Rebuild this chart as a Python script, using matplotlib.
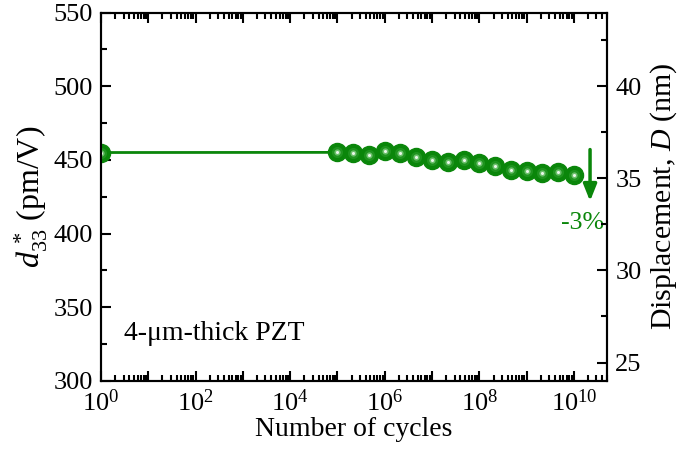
import numpy as np
import matplotlib
matplotlib.use('Agg')
import matplotlib.pyplot as plt
from matplotlib.ticker import MultipleLocator, LogLocator, FuncFormatter, NullFormatter

plt.rcParams['font.family'] = 'Liberation Serif'
plt.rcParams['mathtext.fontset'] = 'custom'
plt.rcParams['mathtext.rm'] = 'Liberation Serif'
plt.rcParams['mathtext.it'] = 'Liberation Serif:italic'

# fatigue data
cycles = [1, 1e5, 2.15e5, 4.64e5, 1e6, 2.15e6, 4.64e6, 1e7, 2.15e7, 4.64e7,
          1e8, 2.15e8, 4.64e8, 1e9, 2.15e9, 4.64e9, 1e10]
d33 = [455.0, 455.1, 454.4, 453.5, 455.8, 454.9, 452.2, 449.9, 448.8, 449.9,
       447.7, 446.0, 443.1, 442.6, 440.9, 441.5, 439.9]
drop_label = '-3%'
sample_label = '4-\u03bcm-thick PZT'

green = '#0a860a'

fig = plt.figure(figsize=(6.85, 4.53), dpi=100)
ax = fig.add_axes([0.1474, 0.159, 0.886 - 0.1474, 0.9724 - 0.159])

ax.plot(cycles, d33, '-', color=green, lw=2, zorder=3)
# shaded "sphere" markers: dark base, lighter core, white highlight
ax.plot(cycles, d33, 'o', color=green, ms=13, mec=green, zorder=4)
ax.plot(cycles, d33, 'o', color='#1f941f', ms=8, mec='none', zorder=5)
ax.plot(cycles, d33, 'o', color='#6cc06c', ms=4.5, mec='none', zorder=6)
ax.plot(cycles, d33, 'o', color='#eaf7ea', ms=2.2, mec='none', zorder=7)

ax.set_xscale('log')
ax.set_xlim(1, 5e10)
ax.set_ylim(300, 550)

ax.xaxis.set_major_locator(LogLocator(base=10, numticks=30))
ax.xaxis.set_minor_locator(LogLocator(base=10, subs=np.arange(2, 10), numticks=30))
ax.xaxis.set_minor_formatter(NullFormatter())


def dec_fmt(v, pos):
    e = int(round(np.log10(v)))
    return r'$10^{%d}$' % e if e % 2 == 0 else ''


ax.xaxis.set_major_formatter(FuncFormatter(dec_fmt))
ax.yaxis.set_major_locator(MultipleLocator(50))
ax.yaxis.set_minor_locator(MultipleLocator(25))

ax.tick_params(which='both', direction='in', top=True, right=False, width=1.5,
               labelsize=19)
ax.tick_params(which='major', length=7)
ax.tick_params(which='minor', length=4)
ax.tick_params(axis='x', pad=6)
ax.tick_params(axis='y', pad=6)
for s in ax.spines.values():
    s.set_linewidth(1.5)

ax.set_xlabel('Number of cycles', fontsize=20, labelpad=1)
ax.set_ylabel(r'$d^{\,*}_{33}$ (pm/V)', fontsize=23, labelpad=2)

ax2 = ax.twinx()
ax2.set_ylim(300 * 0.08, 550 * 0.08)
ax2.yaxis.set_major_locator(MultipleLocator(5))
ax2.yaxis.set_minor_locator(MultipleLocator(2.5))
ax2.tick_params(which='both', direction='in', width=1.5, labelsize=19, pad=6)
ax2.tick_params(which='major', length=7)
ax2.tick_params(which='minor', length=4)
ax2.set_ylabel(r'Displacement, $D$ (nm)', fontsize=21.5, labelpad=5)
for s in ax2.spines.values():
    s.set_linewidth(1.5)

ax.annotate('', xy=(2.2e10, 422), xytext=(2.2e10, 457),
            arrowprops=dict(arrowstyle='-|>,head_length=1.0,head_width=0.4',
                            color=green, lw=2.5, shrinkA=0, shrinkB=0), zorder=8)
ax.text(1.5e10, 407, drop_label, color=green, fontsize=18.5, ha='center', va='center')
ax.text(0.045, 0.128, sample_label, transform=ax.transAxes, fontsize=20,
        ha='left', va='center')

fig.savefig('out.png', dpi=100)
